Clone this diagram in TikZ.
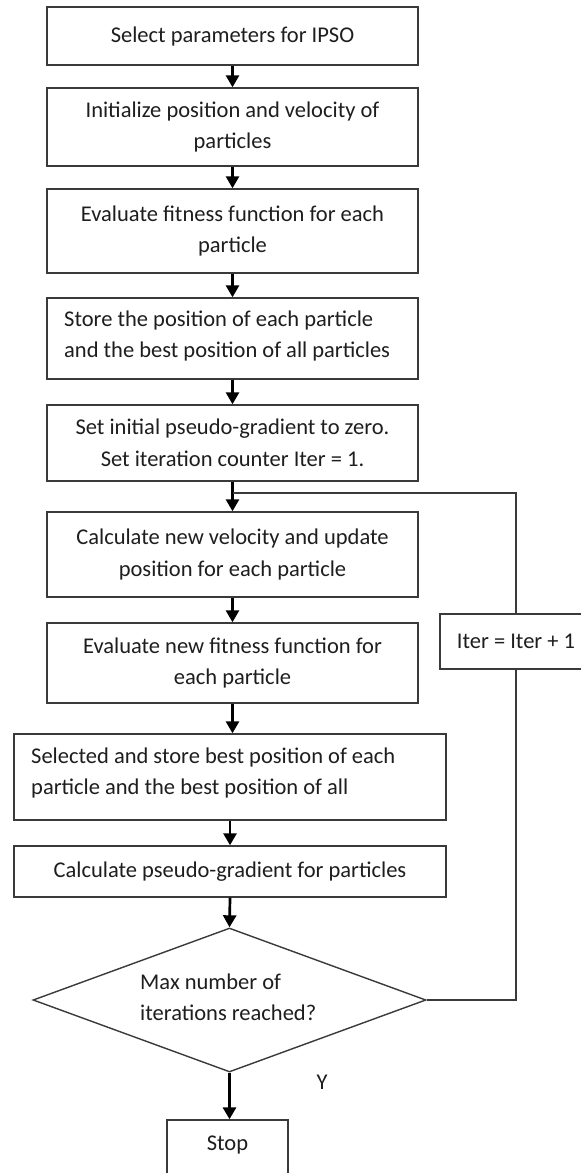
\documentclass[tikz,border=0pt]{standalone}
\usepackage{fontspec}
\setmainfont{Carlito}
\usetikzlibrary{shapes.geometric,arrows.meta}
\definecolor{linec}{HTML}{3A3A3A}
\definecolor{txt}{HTML}{1E1E1E}
\begin{document}
\begin{tikzpicture}[x=1pt,y=-1pt,
  font=\fontsize{22.5}{31.5}\selectfont,
  box/.style={draw=linec,line width=1.4pt,inner sep=0pt,align=center,text=txt},
  ltext/.style={anchor=west,align=left,inner sep=0pt,text=txt},
  arr/.style={-{Triangle[length=12pt,width=13pt]},line width=2.7pt,draw=black},
  fb/.style={draw=linec,line width=1.4pt}]
\clip (0,0) rectangle (581,1173);
\fill[white] (0,0) rectangle (581,1173);
\node[box,minimum width=371pt,minimum height=58pt] (b1) at (232.5,36) {Select parameters for IPSO};
\node[box,minimum width=371pt,minimum height=78pt] (b2) at (232.5,127) {Initialize position and velocity of\\particles};
\node[box,minimum width=371pt,minimum height=84pt] (b3) at (232.5,231) {Evaluate fitness function for each\\particle};
\node[box,minimum width=371pt,minimum height=81pt] (b4) at (232.5,338.5) {};
\node[ltext] (b4t) at (64,336) {Store the position of each particle\\and the best position of all particles};
\node[box,minimum width=371pt,minimum height=76pt] (b5) at (232.5,443) {Set initial pseudo-gradient to zero.\\Set iteration counter Iter = 1.};
\node[box,minimum width=371pt,minimum height=85pt] (b6) at (232.5,554.5) {Calculate new velocity and update\\position for each particle};
\node[box,minimum width=371pt,minimum height=80pt] (b7) at (232.5,663) {Evaluate new fitness function for\\each particle};
\node[box,minimum width=432pt,minimum height=86pt] (b8) at (230,777) {};
\node[ltext] (b8t) at (31,773) {Selected and store best position of each\\particle and the best position of all};
\node[box,minimum width=432pt,minimum height=51pt] (b9) at (230,871.5) {Calculate pseudo-gradient for particles};
\node[box,shape=diamond,shape aspect=2.73,minimum width=393pt,minimum height=144pt] (dia) at (229.5,1000) {};
\node[ltext] (diat) at (140,997.5) {Max number of\\iterations reached?};
\node[box,minimum width=121pt,minimum height=60pt,text height=15pt,text depth=15pt] (stop) at (227.5,1150) {Stop};
\node[box,minimum width=152pt,minimum height=55pt] (iter) at (516,641.5) {Iter = Iter + 1};
\node[text=txt] (ylab) at (322,1082) {Y};
\coordinate (j) at (232.5,493);
\draw[arr] (b1.south) -- (b2.north);
\draw[arr] (b2.south) -- (b3.north);
\draw[arr] (b3.south) -- (b4.north);
\draw[arr] (b4.south) -- (b5.north);
\draw[arr] (b5.south) -- (b6.north);
\draw[arr] (b6.south) -- (b7.north);
\draw[arr] (b7.south) -- (b7.south |- b8.north);
\draw[arr] (b8.south) -- (b9.north);
\draw[arr] (b9.south) -- (dia.north);
\draw[arr,line width=3.6pt] (dia.south) -- (dia.south |- stop.north);
\draw[fb] (dia.east) -| (iter.south);
\draw[fb] (iter.north) |- (j);
\end{tikzpicture}
\end{document}
